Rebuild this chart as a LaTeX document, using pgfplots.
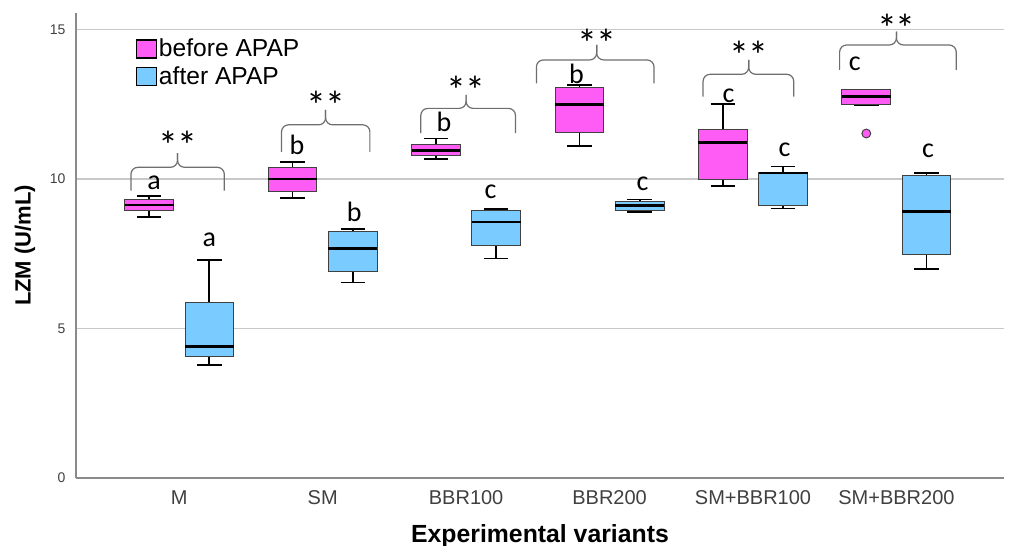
\documentclass[border=0pt]{standalone}
\usepackage{pgfplots}
\pgfplotsset{compat=1.18}
\usepgfplotslibrary{statistics}
\usetikzlibrary{calc}
\usepackage{fontspec}
\setmainfont{Liberation Sans}
\newfontfamily\calib{Carlito}

\definecolor{pinkc}{HTML}{FF5CF5}
\definecolor{bluec}{HTML}{7ACBFF}
\definecolor{edgec}{HTML}{404040}
\definecolor{bracec}{HTML}{6E6E6E}
\definecolor{gridc}{HTML}{C8C8C8}
\definecolor{axc}{HTML}{8A8A8A}

% one box: position, lower whisker, lower quartile, median, upper quartile, upper whisker, fill
\newcommand{\bp}[7]{%
  \addplot[fill=#7, draw=edgec, line width=0.5pt,
    boxplot prepared={draw position=#1, lower whisker=#2, lower quartile=#3,
      median=#4, upper quartile=#5, upper whisker=#6}] coordinates {};}

% significance brace: x left, x right, x middle, y legs, y bar, y tip, y top of stars
\newcommand{\sig}[7]{%
  \draw[bracec, line width=0.6pt, rounded corners=3.5pt]
    (axis cs:#1,#4) -- (axis cs:#1,#5) -- (axis cs:#3,#5) -- (axis cs:#3,#6);
  \draw[bracec, line width=0.6pt, rounded corners=3.5pt]
    (axis cs:#2,#4) -- (axis cs:#2,#5) -- (axis cs:#3,#5) -- (axis cs:#3,#6);
  \node[font=\calib\fontsize{20}{20}\selectfont, anchor=north, inner sep=0pt]
    at (axis cs:#3,#7) {*\kern-0.5pt*};}

% group letter: x, baseline y, letter
\newcommand{\lt}[3]{%
  \node[font=\calib\fontsize{14}{14}\selectfont, anchor=base, inner sep=0pt]
    at (axis cs:#1,#2) {#3};}

\begin{document}
\begin{tikzpicture}
\begin{axis}[
  name=ax,
  scale only axis, width=464pt, height=232.5pt,
  xmin=-0.72, xmax=5.75, ymin=0, ymax=15.55,
  xtick={0,1,2,3,4,5},
  xticklabels={M,SM,BBR100,BBR200,SM+BBR100,SM+BBR200},
  ytick={0,5,10,15},
  major tick length=0pt,
  axis x line*=bottom, axis y line*=left,
  axis line style={-, draw=axc, line width=0.8pt},
  ymajorgrids, major grid style={draw=gridc, line width=0.8pt},
  /pgf/number format/assume math mode=true,
  xticklabel style={font=\fontsize{10}{12}\selectfont, text=black!75, yshift=-2.8pt},
  yticklabel style={font=\fontsize{7}{8}\selectfont, text=black!75, xshift=-1.7pt},
  xlabel={\bfseries Experimental variants},
  xlabel style={font=\fontsize{12.4}{14}\selectfont, at={(axis description cs:0.5,-0.139)}, anchor=base},
  ylabel={\bfseries LZM (U/mL)},
  ylabel style={font=\fontsize{11}{13}\selectfont, at={(axis description cs:-0.055,0.5)}, anchor=center},
  legend style={at={(axis description cs:0.064,0.95)}, anchor=north west,
    draw=none, fill=none, inner sep=0pt, row sep=1.5pt,
    font=\fontsize{12.3}{14}\selectfont, nodes={inner sep=1pt}},
  legend cell align=left,
  boxplot/draw direction=y,
  boxplot/box extend=0.34,
  boxplot/whisker extend=0.17,
  boxplot/every median/.style={draw=black, line width=1.4pt},
  boxplot/every whisker/.style={draw=black, line width=0.9pt},
  clip=false,
]
\addlegendimage{legend image code/.code={\draw[fill=pinkc, draw=black, line width=0.6pt] (0pt,-4.5pt) rectangle (10pt,4.5pt);}}
\addlegendentry{before APAP}
\addlegendimage{legend image code/.code={\draw[fill=bluec, draw=black, line width=0.6pt] (0pt,-4.5pt) rectangle (10pt,4.5pt);}}
\addlegendentry{after APAP}

% M
\bp{-0.21}{8.73}{8.93}{9.13}{9.30}{9.43}{pinkc}
\bp{0.21}{3.79}{4.06}{4.40}{5.87}{7.30}{bluec}
% SM
\bp{0.79}{9.36}{9.57}{10.00}{10.39}{10.56}{pinkc}
\bp{1.21}{6.54}{6.89}{7.68}{8.23}{8.32}{bluec}
% BBR100
\bp{1.79}{10.68}{10.79}{10.95}{11.16}{11.35}{pinkc}
\bp{2.21}{7.34}{7.76}{8.56}{8.95}{8.99}{bluec}
% BBR200
\bp{2.79}{11.11}{11.54}{12.50}{13.05}{13.14}{pinkc}
\bp{3.21}{8.89}{8.95}{9.10}{9.26}{9.31}{bluec}
% SM+BBR100
\bp{3.79}{9.77}{9.98}{11.21}{11.65}{12.50}{pinkc}
\bp{4.21}{9.01}{9.10}{10.20}{10.23}{10.42}{bluec}
% SM+BBR200 (one outlier before APAP)
\addplot[fill=pinkc, draw=edgec, line width=0.5pt,
  mark=*, mark size=2.2pt, mark options={fill=pinkc, draw=edgec, line width=0.5pt},
  boxplot prepared={draw position=4.79, lower whisker=12.48, lower quartile=12.48,
    median=12.75, upper quartile=12.98, upper whisker=12.99}]
  table[row sep=\\, y index=0] {y\\ 11.52\\};
\bp{5.21}{7.00}{7.46}{8.92}{10.11}{10.21}{bluec}

% braces with **
\sig{-0.337}{0.314}{-0.012}{9.61}{10.39}{10.86}{11.62}
\sig{0.713}{1.329}{1.02}{10.91}{11.81}{12.31}{12.95}
\sig{1.684}{2.344}{2.0}{11.53}{12.36}{12.81}{13.45}
\sig{2.49}{3.31}{2.91}{13.2}{13.98}{14.48}{15.04}
\sig{3.652}{4.284}{3.97}{12.75}{13.50}{13.98}{14.62}
\sig{4.604}{5.417}{5.0}{13.65}{14.48}{14.93}{15.54}

% group letters
\lt{-0.175}{9.66}{a}
\lt{0.21}{7.73}{a}
\lt{0.82}{10.82}{b}
\lt{1.22}{8.59}{b}
\lt{1.845}{11.58}{b}
\lt{2.17}{9.34}{c}
\lt{2.77}{13.2}{b}
\lt{3.23}{9.63}{c}
\lt{3.83}{12.57}{c}
\lt{4.22}{10.74}{c}
\lt{4.71}{13.62}{c}
\lt{5.22}{10.72}{c}
\end{axis}
\pgfresetboundingbox
\path[use as bounding box] ($(ax.south west)+(-38pt,-34pt)$) rectangle ($(ax.north east)+(2.5pt,6.5pt)$);
\end{tikzpicture}
\end{document}
